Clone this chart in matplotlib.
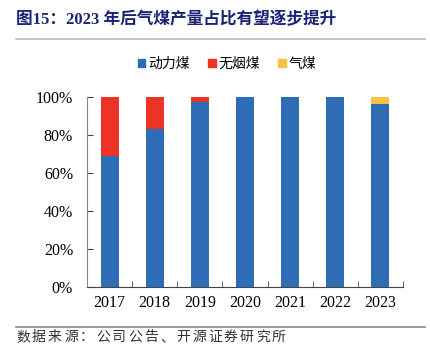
import numpy as np
import matplotlib.pyplot as plt
from matplotlib.lines import Line2D
from matplotlib.patches import Patch

plt.rcParams['font.family'] = ['Noto Sans CJK SC', 'DejaVu Sans']

years = ["2017", "2018", "2019", "2020", "2021", "2022", "2023"]
thermal = [68.7, 83.1, 97.2, 100, 100, 100, 96.5]
anthracite = [31.3, 16.9, 2.8, 0, 0, 0, 0]
gas_coal = [0, 0, 0, 0, 0, 0, 3.5]
series_names = ["动力煤", "无烟煤", "气煤"]
colors = ["#2E6DB5", "#EC3325", "#F7C143"]
source = "数据来源：公司公告、开源证券研究所"

fig = plt.figure(figsize=(4.31, 3.46), dpi=100)
ax = fig.add_axes([87/431, 1 - 287/346, 316/431, 190/346])

x = np.arange(len(years))
w = 0.4
ax.bar(x, thermal, w, color=colors[0], zorder=2)
ax.bar(x, anthracite, w, bottom=thermal, color=colors[1], zorder=2)
ax.bar(x, gas_coal, w, bottom=np.array(thermal) + np.array(anthracite), color=colors[2], zorder=2)

ax.set_xlim(-0.5, len(years) - 0.5)
ax.set_ylim(0, 100)
ax.set_yticks(np.arange(0, 101, 20))
ax.set_yticklabels([f"{v}%" for v in range(0, 101, 20)], family="Liberation Serif", fontsize=11.5)
ax.set_xticks(x)
ax.set_xticklabels(years, family="Liberation Serif", fontsize=11.5)
ax.set_xticks(np.arange(0.5, len(years), 1), minor=True)
ax.tick_params(axis="x", which="major", length=0, pad=6)
ax.tick_params(axis="x", which="minor", direction="in", length=4, color="#444444")
ax.tick_params(axis="y", direction="in", length=4, color="#444444", pad=10)
for s in ["top", "right"]:
    ax.spines[s].set_visible(False)
ax.spines["left"].set_color("#888888")
ax.spines["bottom"].set_color("#444444")

handles = [Patch(color=c) for c in colors]
fig.legend(handles, series_names, loc="center", bbox_to_anchor=(227/431, 1 - 64/346),
           ncol=3, frameon=False, fontsize=10, handlelength=0.55, handleheight=0.55,
           handletextpad=0.2, columnspacing=1.3)

fig.text(16/431, 1 - 20/346, "图15：2023 年后气煤产量占比有望逐步提升", color="#1B2377",
         fontsize=12, fontweight="bold", va="center", ha="left",
         family=["Liberation Serif", "Noto Sans CJK SC"])
fig.add_artist(Line2D([16/431, 425/431], [1 - 39/346, 1 - 39/346], color="#BBBBBB", lw=1.2))
fig.add_artist(Line2D([16/431, 425/431], [1 - 327/346, 1 - 327/346], color="#888888", lw=1.2))
# source line drawn with wide letter spacing like the original
for i, ch in enumerate(source):
    fig.text((16 + i * 16) / 431, 1 - 337/346, ch, color="#333333",
             fontsize=10, va="center", ha="left")

fig.savefig("out.png", dpi=100)
